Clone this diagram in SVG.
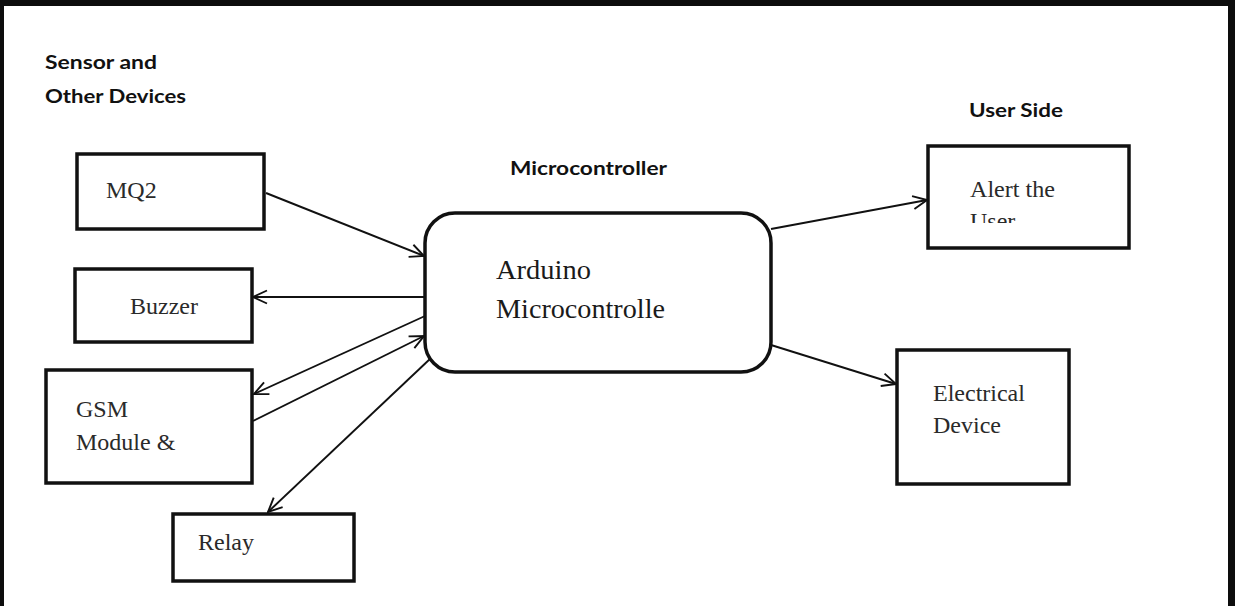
<svg xmlns="http://www.w3.org/2000/svg" width="1235" height="606" viewBox="0 0 1235 606">
<style>
.frame{fill:#0d0d0d}
.box{fill:#fff;stroke:#111;stroke-width:3.5}
.hdr{font-family:Lato,"Open Sans","Liberation Sans",sans-serif;font-weight:bold;font-size:19px;fill:#111}
.lbl{font-family:"Liberation Serif","DejaVu Serif",serif;font-size:24px;fill:#2a2a2a}
.big{font-size:28px;fill:#1a1a1a}
.conn line{stroke:#111;stroke-width:1.9;fill:none;marker-end:url(#arr)}
</style>
<defs>
<marker id="arr" viewBox="0 0 16 16" refX="15" refY="8" markerWidth="16" markerHeight="16" markerUnits="userSpaceOnUse" orient="auto">
<path d="M1,1.5 L15,8 L1,14.5" fill="none" stroke="#111" stroke-width="1.9"/>
</marker>
<clipPath id="userclip"><rect x="960" y="205" width="120" height="18"/></clipPath>
</defs>
<rect x="0" y="0" width="1235" height="606" fill="#fff"/>
<rect class="frame" x="0" y="0" width="1235" height="6"/>
<rect class="frame" x="0" y="0" width="4" height="606"/>
<rect class="frame" x="1228" y="0" width="7" height="606"/>

<g id="headers">
<text class="hdr" x="45" y="69" textLength="112" lengthAdjust="spacingAndGlyphs">Sensor and</text>
<text class="hdr" x="45" y="103" textLength="141" lengthAdjust="spacingAndGlyphs">Other Devices</text>
<text class="hdr" x="510" y="175" textLength="157" lengthAdjust="spacingAndGlyphs">Microcontroller</text>
<text class="hdr" x="969" y="117" textLength="94" lengthAdjust="spacingAndGlyphs">User Side</text>
</g>

<g class="conn" id="connectors">
<line x1="266" y1="193" x2="424" y2="256"/>
<line x1="425" y1="297" x2="253" y2="297"/>
<line x1="425" y1="316" x2="254" y2="394"/>
<line x1="253" y1="421" x2="424" y2="336"/>
<line x1="431" y1="358" x2="268" y2="512"/>
<line x1="771" y1="229" x2="927" y2="200"/>
<line x1="771" y1="345" x2="896" y2="384"/>
</g>

<g id="mq2">
<rect class="box" x="77" y="154" width="187" height="75"/>
<text class="lbl" x="106" y="198">MQ2</text>
</g>
<g id="buzzer">
<rect class="box" x="75" y="269" width="177" height="73"/>
<text class="lbl" x="130" y="314">Buzzer</text>
</g>
<g id="gsm">
<rect class="box" x="46" y="370" width="206" height="113"/>
<text class="lbl" x="76" y="417">GSM</text>
<text class="lbl" x="76" y="450">Module &amp;</text>
</g>
<g id="relay">
<rect class="box" x="173" y="514" width="181" height="67"/>
<text class="lbl" x="198" y="550">Relay</text>
</g>
<g id="arduino">
<rect class="box" x="425" y="213" width="346" height="159" rx="30" ry="30"/>
<text class="lbl big" x="496" y="279" textLength="95" lengthAdjust="spacingAndGlyphs">Arduino</text>
<text class="lbl big" x="496" y="318" textLength="169" lengthAdjust="spacingAndGlyphs">Microcontrolle</text>
</g>
<g id="alert">
<rect class="box" x="928" y="146" width="201" height="102"/>
<text class="lbl" x="970" y="197" textLength="85" lengthAdjust="spacingAndGlyphs">Alert the</text>
<text class="lbl" x="970" y="229" clip-path="url(#userclip)">User</text>
</g>
<g id="electrical">
<rect class="box" x="897" y="350" width="172" height="134"/>
<text class="lbl" x="933" y="401">Electrical</text>
<text class="lbl" x="933" y="433">Device</text>
</g>
</svg>
